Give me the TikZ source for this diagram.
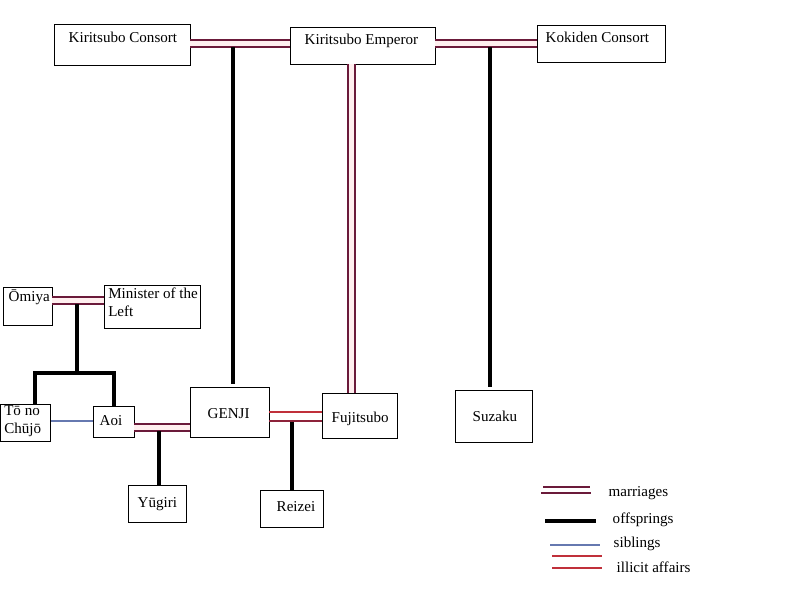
\documentclass[tikz,border=0pt]{standalone}
\usepackage{fontspec}
\setmainfont{Liberation Serif}
\begin{document}
\begin{tikzpicture}[x=0.75pt,y=-0.75pt,
  box/.style={draw,line width=0.8pt,anchor=north west,inner sep=0pt},
  mar/.style={draw=mar,line width=0.9pt},
  off/.style={draw=black,line width=2.6pt},
  sib/.style={draw=sibc,line width=1pt},
  ill/.style={draw=illc,line width=1.2pt},
  lab/.style={anchor=west,font=\fontsize{11.3}{12}\selectfont},
  txt/.style={anchor=west,font=\fontsize{11.3}{12}\selectfont},
  txt2/.style={anchor=north west,align=left,inner sep=0pt,font=\fontsize{11.3}{13.5}\selectfont}]
\definecolor{mar}{HTML}{6B1A3A}
\definecolor{sibc}{HTML}{6679B0}
\definecolor{illc}{HTML}{C0303A}
\useasboundingbox (0,0) rectangle (791,593);
% boxes
\node[box,minimum width=136*0.75pt,minimum height=41*0.75pt] (kc) at (54,24) {};
\node[txt] at (64,37) {Kiritsubo Consort};
\node[box,minimum width=145*0.75pt,minimum height=37*0.75pt] (ke) at (290,27) {};
\node[txt] at (300,41) {Kiritsubo Emperor};
\node[box,minimum width=128*0.75pt,minimum height=37*0.75pt] (kk) at (537,25) {};
\node[txt] at (541,37) {Kokiden Consort};
\node[box,minimum width=49*0.75pt,minimum height=38*0.75pt] (om) at (3,287) {};
\node[txt] at (4,297) {Ōmiya};
\node[box,minimum width=96*0.75pt,minimum height=43*0.75pt] (mi) at (104,285) {};
\node[txt2] at (108,288) {Minister of the\\Left};
\node[box,minimum width=50*0.75pt,minimum height=37*0.75pt] (to) at (0,404) {};
\node[txt2] at (4,405) {Tō no\\Chūjō};
\node[box,minimum width=41*0.75pt,minimum height=31*0.75pt] (ao) at (93,406) {};
\node[txt] at (95,421) {Aoi};
\node[box,minimum width=79*0.75pt,minimum height=50*0.75pt] (ge) at (190,387) {};
\node[txt] at (203,414) {GENJI};
\node[box,minimum width=75*0.75pt,minimum height=45*0.75pt] (fu) at (322,393) {};
\node[txt] at (327,419) {Fujitsubo};
\node[box,minimum width=77*0.75pt,minimum height=52*0.75pt] (su) at (455,390) {};
\node[txt] at (468,416) {Suzaku};
\node[box,minimum width=58*0.75pt,minimum height=37*0.75pt] (yu) at (128,485) {};
\node[txt] at (133,504) {Yūgiri};
\node[box,minimum width=63*0.75pt,minimum height=37*0.75pt] (re) at (260,490) {};
\node[txt] at (272,507) {Reizei};
% marriages
\fill[pink!25] (190,40) rectangle (290,47);
\draw[mar] (190,40) -- (290,40) (190,47) -- (290,47);
\fill[pink!25] (435,40) rectangle (537,47);
\draw[mar] (435,40) -- (537,40) (435,47) -- (537,47);
\fill[pink!25] (348,64) rectangle (355,393);
\draw[mar] (348,64) -- (348,393) (355,64) -- (355,393);
\fill[pink!25] (52,297) rectangle (104,304);
\draw[mar] (52,297) -- (104,297) (52,304) -- (104,304);
\fill[pink!25] (134,424) rectangle (190,431);
\draw[mar] (134,424) -- (190,424) (134,431) -- (190,431);
% offspring
\coordinate (c1) at (233,47);
\draw[off] (c1) -- (233,384);
\coordinate (c2) at (490,47);
\draw[off] (c2) -- (490,387);
\coordinate (c3) at (77,304);
\draw[off] (c3) -- (77,373);
\draw[off] (35,404) -- (35,373) -- (114,373) -- (114,406);
\coordinate (c4) at (159,431);
\draw[off] (c4) -- (yu.north -| c4);
\coordinate (c5) at (292,421);
\draw[off] (c5) -- (re.north -| c5);
% siblings
\draw[sib] (to.east |- 0,421) -- (ao.west |- 0,421);
% illicit
\draw[ill] (269,412) -- (322,412);
\draw[ill,draw=mar!60!illc] (269,421) -- (322,421);
% legend
\draw[mar,line width=1.3pt] (543,487) -- (590,487);
\draw[mar,line width=1.3pt] (541,493) -- (591,493);
\node[lab] at (604,493) {marriages};
\draw[off] (545,521) -- (596,521);
\node[lab] at (608,520) {offsprings};
\draw[sib,line width=1.3pt] (550,545) -- (600,545);
\node[lab] at (609,544) {siblings};
\draw[ill] (552,556) -- (602,556);
\draw[ill] (552,568) -- (602,568);
\node[lab] at (612,567) {illicit affairs};
\end{tikzpicture}
\end{document}
